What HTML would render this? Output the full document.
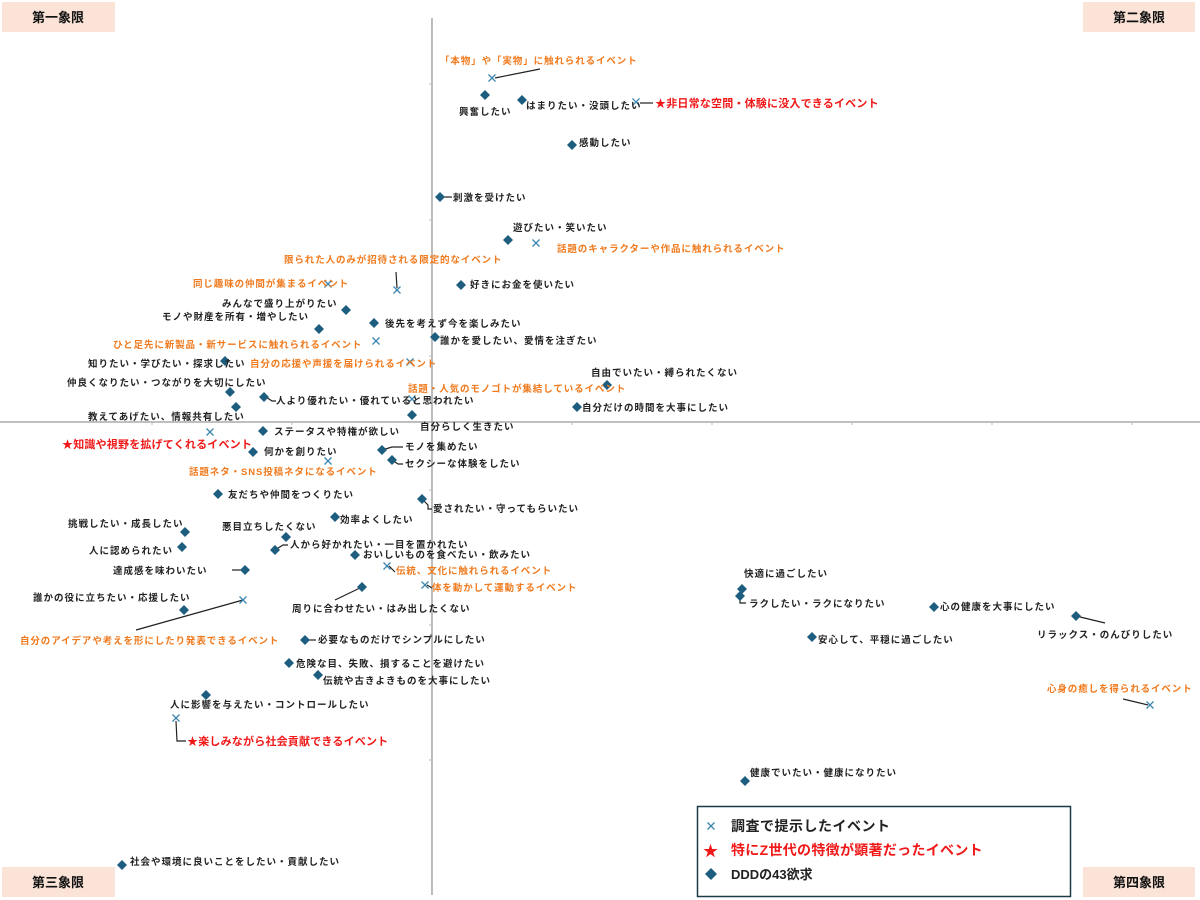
<!DOCTYPE html>
<html><head><meta charset="utf-8"><style>
html,body{margin:0;padding:0;background:#fff;}
svg{display:block;font-family:"Liberation Sans","Noto Sans CJK JP",sans-serif;}
.t{font-size:9.5px;font-weight:bold;letter-spacing:1px;fill:#222;}
.o{font-size:9.5px;font-weight:bold;letter-spacing:0.9px;fill:#f07a1e;}
.r{font-size:11px;font-weight:bold;letter-spacing:0.2px;fill:#f01818;}
.q{font-size:13px;font-weight:bold;fill:#111;}
.ln{stroke:#222;stroke-width:1.2;fill:none;}
</style></head><body>
<svg width="1200" height="900" viewBox="0 0 1200 900" xmlns="http://www.w3.org/2000/svg">
<defs>
<path id="d" d="M0,-5L5,0L0,5L-5,0Z" fill="#1d5e80"/>
<path id="x" d="M-3.5,-3.5L3.5,3.5M-3.5,3.5L3.5,-3.5" stroke="#3d86ad" stroke-width="1.3" fill="none"/>
</defs>
<line x1="432" y1="18" x2="432" y2="895" stroke="#999" stroke-width="1.3"/>
<line x1="0" y1="422" x2="1200" y2="422" stroke="#999" stroke-width="1.3"/>
<g stroke="#bbb" stroke-width="1">
<line x1="429" y1="84" x2="432" y2="84"/><line x1="429" y1="220" x2="432" y2="220"/><line x1="429" y1="356" x2="432" y2="356"/>
<line x1="429" y1="490" x2="432" y2="490"/><line x1="429" y1="625" x2="432" y2="625"/><line x1="429" y1="760" x2="432" y2="760"/>
<line x1="572" y1="422" x2="572" y2="425"/><line x1="712" y1="422" x2="712" y2="425"/><line x1="852" y1="422" x2="852" y2="425"/>
<line x1="992" y1="422" x2="992" y2="425"/><line x1="1132" y1="422" x2="1132" y2="425"/>
<line x1="292" y1="422" x2="292" y2="425"/><line x1="152" y1="422" x2="152" y2="425"/>
</g>
<rect x="2" y="2" width="113" height="30" fill="#fbe3d7"/><text class="q" x="58" y="22" text-anchor="middle">第一象限</text>
<rect x="1083" y="2" width="112" height="30" fill="#fbe3d7"/><text class="q" x="1139" y="22" text-anchor="middle">第二象限</text>
<rect x="2" y="867" width="113" height="30" fill="#fbe3d7"/><text class="q" x="58" y="887" text-anchor="middle">第三象限</text>
<rect x="1083" y="867" width="112" height="30" fill="#fbe3d7"/><text class="q" x="1139" y="887" text-anchor="middle">第四象限</text>

<path class="ln" d="M540,69L495,78"/>
<path class="ln" d="M640,103L653,103"/>
<path class="ln" d="M442,197L452,197"/>
<path class="ln" d="M396,272L397,288"/>
<path class="ln" d="M266,397L272,401L276,401"/>
<path class="ln" d="M382,450L392,447L403,447"/>
<path class="ln" d="M392,460L398,464L403,464"/>
<path class="ln" d="M422,499L428,505L428,509L432,509"/>
<path class="ln" d="M275,550L283,545L288,545"/>
<path class="ln" d="M232,570L245,570"/>
<path class="ln" d="M389,566L395,572"/>
<path class="ln" d="M427,585L432,588"/>
<path class="ln" d="M362,587L335,600"/>
<path class="ln" d="M243,600L136,630"/>
<path class="ln" d="M307,640L316,640"/>
<path class="ln" d="M176,721L177,741L186,741"/>
<path class="ln" d="M740,596L740,603L746,603"/>
<path class="ln" d="M1076,616L1105,623"/>
<path class="ln" d="M1123,699L1148,705"/>

<use href="#d" x="485" y="95"/><use href="#d" x="522" y="100"/><use href="#d" x="572" y="145"/>
<use href="#d" x="440" y="197"/><use href="#d" x="508" y="240"/><use href="#d" x="461" y="285"/>
<use href="#d" x="346" y="310"/><use href="#d" x="319" y="329"/><use href="#d" x="374" y="323"/>
<use href="#d" x="435" y="337"/><use href="#d" x="225" y="361"/><use href="#d" x="607" y="385"/>
<use href="#d" x="230" y="392"/><use href="#d" x="264" y="397"/><use href="#d" x="577" y="407"/>
<use href="#d" x="236" y="407"/><use href="#d" x="412" y="415"/><use href="#d" x="263" y="431"/>
<use href="#d" x="253" y="452"/><use href="#d" x="382" y="450"/><use href="#d" x="392" y="460"/>
<use href="#d" x="218" y="494"/><use href="#d" x="422" y="499"/><use href="#d" x="335" y="517"/>
<use href="#d" x="185" y="532"/><use href="#d" x="286" y="537"/><use href="#d" x="182" y="547"/>
<use href="#d" x="275" y="550"/><use href="#d" x="355" y="555"/><use href="#d" x="245" y="570"/>
<use href="#d" x="362" y="587"/><use href="#d" x="184" y="610"/><use href="#d" x="305" y="640"/>
<use href="#d" x="289" y="663"/><use href="#d" x="318" y="675"/><use href="#d" x="206" y="695"/>
<use href="#d" x="742" y="589"/><use href="#d" x="740" y="596"/><use href="#d" x="934" y="607"/>
<use href="#d" x="1076" y="616"/><use href="#d" x="812" y="637"/><use href="#d" x="745" y="781"/>
<use href="#d" x="122" y="865"/>

<use href="#x" x="492" y="78"/><use href="#x" x="636" y="102"/><use href="#x" x="536" y="243"/>
<use href="#x" x="397" y="290"/><use href="#x" x="328" y="284"/><use href="#x" x="376" y="341"/>
<use href="#x" x="410" y="362"/><use href="#x" x="412" y="399"/><use href="#x" x="210" y="432"/>
<use href="#x" x="328" y="461"/><use href="#x" x="387" y="566"/><use href="#x" x="425" y="585"/>
<use href="#x" x="243" y="600"/><use href="#x" x="176" y="718"/><use href="#x" x="1150" y="705"/>

<text class="t" x="459" y="115">興奮したい</text>
<text class="t" x="526" y="109">はまりたい・没頭したい</text>
<text class="t" x="579" y="146">感動したい</text>
<text class="t" x="453" y="201">刺激を受けたい</text>
<text class="t" x="513" y="231">遊びたい・笑いたい</text>
<text class="t" x="470" y="288">好きにお金を使いたい</text>
<text class="t" x="222" y="307">みんなで盛り上がりたい</text>
<text class="t" x="162" y="320">モノや財産を所有・増やしたい</text>
<text class="t" x="385" y="327">後先を考えず今を楽しみたい</text>
<text class="t" x="440" y="344">誰かを愛したい、愛情を注ぎたい</text>
<text class="t" x="88" y="367">知りたい・学びたい・探求したい</text>
<text class="t" x="591" y="376">自由でいたい・縛られたくない</text>
<text class="t" x="67" y="386">仲良くなりたい・つながりを大切にしたい</text>
<text class="t" x="276" y="404">人より優れたい・優れていると思われたい</text>
<text class="t" x="582" y="411">自分だけの時間を大事にしたい</text>
<text class="t" x="88" y="420">教えてあげたい、情報共有したい</text>
<text class="t" x="420" y="430">自分らしく生きたい</text>
<text class="t" x="274" y="435">ステータスや特権が欲しい</text>
<text class="t" x="264" y="455">何かを創りたい</text>
<text class="t" x="405" y="450">モノを集めたい</text>
<text class="t" x="405" y="467">セクシーな体験をしたい</text>
<text class="t" x="228" y="498">友だちや仲間をつくりたい</text>
<text class="t" x="433" y="512">愛されたい・守ってもらいたい</text>
<text class="t" x="340" y="523">効率よくしたい</text>
<text class="t" x="68" y="527">挑戦したい・成長したい</text>
<text class="t" x="222" y="530">悪目立ちしたくない</text>
<text class="t" x="89" y="554">人に認められたい</text>
<text class="t" x="290" y="548">人から好かれたい・一目を置かれたい</text>
<text class="t" x="363" y="558">おいしいものを食べたい・飲みたい</text>
<text class="t" x="113" y="574">達成感を味わいたい</text>
<text class="t" x="292" y="612">周りに合わせたい・はみ出したくない</text>
<text class="t" x="33" y="601">誰かの役に立ちたい・応援したい</text>
<text class="t" x="318" y="643">必要なものだけでシンプルにしたい</text>
<text class="t" x="296" y="667">危険な目、失敗、損することを避けたい</text>
<text class="t" x="323" y="684">伝統や古きよきものを大事にしたい</text>
<text class="t" x="170" y="708">人に影響を与えたい・コントロールしたい</text>
<text class="t" x="744" y="577">快適に過ごしたい</text>
<text class="t" x="749" y="607">ラクしたい・ラクになりたい</text>
<text class="t" x="940" y="610">心の健康を大事にしたい</text>
<text class="t" x="1037" y="638">リラックス・のんびりしたい</text>
<text class="t" x="818" y="643">安心して、平穏に過ごしたい</text>
<text class="t" x="750" y="776">健康でいたい・健康になりたい</text>
<text class="t" x="130" y="865">社会や環境に良いことをしたい・貢献したい</text>

<text class="o" x="440" y="64">「本物」や「実物」に触れられるイベント</text>
<text class="o" x="557" y="252">話題のキャラクターや作品に触れられるイベント</text>
<text class="o" x="284" y="263">限られた人のみが招待される限定的なイベント</text>
<text class="o" x="193" y="287">同じ趣味の仲間が集まるイベント</text>
<text class="o" x="113" y="348">ひと足先に新製品・新サービスに触れられるイベント</text>
<text class="o" x="250" y="367">自分の応援や声援を届けられるイベント</text>
<text class="o" x="408" y="392">話題・人気のモノゴトが集結しているイベント</text>
<text class="o" x="189" y="475">話題ネタ・SNS投稿ネタになるイベント</text>
<text class="o" x="396" y="574">伝統、文化に触れられるイベント</text>
<text class="o" x="432" y="591">体を動かして運動するイベント</text>
<text class="o" x="20" y="644">自分のアイデアや考えを形にしたり発表できるイベント</text>
<text class="o" x="1047" y="692">心身の癒しを得られるイベント</text>

<text class="r" x="655" y="107">★非日常な空間・体験に没入できるイベント</text>
<text class="r" x="62" y="448">★知識や視野を拡げてくれるイベント</text>
<text class="r" x="187" y="745">★楽しみながら社会貢献できるイベント</text>

<rect x="697.5" y="806.5" width="373" height="90" fill="#fff" stroke="#1a3a4a" stroke-width="1.5"/>
<use href="#x" x="711" y="826"/>
<text x="731" y="831" style="font-size:14px;font-weight:bold;fill:#222;letter-spacing:0.5px">調査で提示したイベント</text>
<text x="703" y="856" style="font-size:15px;font-weight:bold;fill:#f01818">★</text>
<text x="731" y="855" style="font-size:14px;font-weight:bold;fill:#f01818;letter-spacing:0.3px">特にZ世代の特徴が顕著だったイベント</text>
<path d="M711,868L717,874L711,880L705,874Z" fill="#1d5e80"/>
<text x="731" y="879" style="font-size:13px;font-weight:bold;fill:#222">DDDの43欲求</text>
</svg>
</body></html>
